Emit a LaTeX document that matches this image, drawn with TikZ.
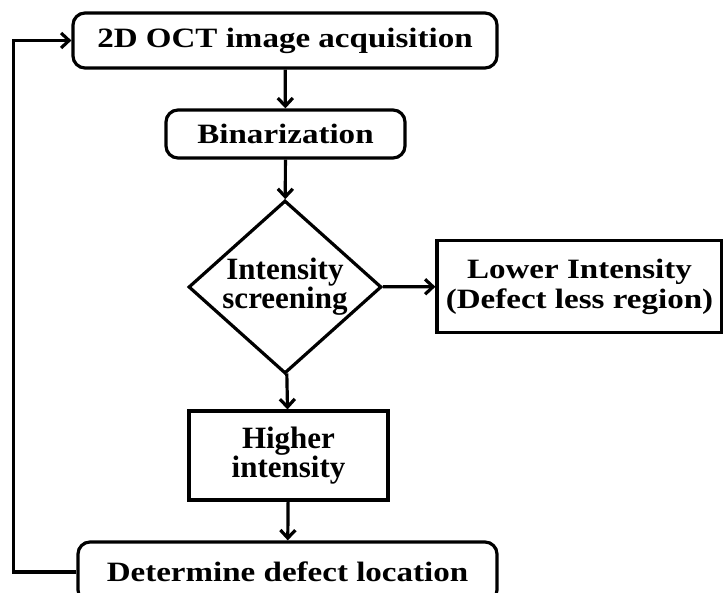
\documentclass[tikz,border=0pt]{standalone}
\usepackage{fontspec}
\setmainfont{Liberation Serif}
\newfontfamily\flowfont[FakeStretch=1.18]{Liberation Serif}
\usetikzlibrary{arrows.meta, positioning, shapes.geometric}

\begin{document}
\begin{tikzpicture}[->,>={Straight Barb[length=8pt,width=15pt]}, x=1pt, y=1pt, line width=3.2pt,
    every node/.style={font=\flowfont\bfseries\fontsize{28}{30}\selectfont, align=center, inner sep=0pt},
    bigtext/.style={font=\bfseries\fontsize{31}{28}\selectfont},
    roundbox/.style={draw, rounded corners=12pt},
    plainbox/.style={draw}]
    \useasboundingbox (0,0) rectangle (723,-593);

    \node[roundbox, minimum width=424pt, minimum height=55pt] (acq) at (285,-40.5) {2D OCT image acquisition};
    \node[roundbox, minimum width=239pt, minimum height=48pt] (bin) at (285.5,-134) {Binarization};
    \node[draw, diamond, bigtext, inner sep=-16pt, minimum width=193pt, minimum height=173pt] (screen) at (285,-287) {Intensity\\screening};
    \node[plainbox, minimum width=285pt, minimum height=92pt] (low) at (579.5,-286.5) {Lower Intensity\\(Defect less region)};
    \node[plainbox, bigtext, minimum width=199pt, minimum height=89pt] (high) at (288.5,-455.5) {Higher\\intensity};
    \node[roundbox, minimum width=419pt, minimum height=60pt] (det) at (287.5,-572) {Determine defect location};

    \draw (acq) -- (bin);
    \draw (bin) -- (screen);
    \draw (screen) -- (low);
    \draw (screen) -- (high);
    \draw (high) -- (det);
    \draw (det.west) -- ++(-63,0) |- (acq.west);
  \end{tikzpicture}
\end{document}
